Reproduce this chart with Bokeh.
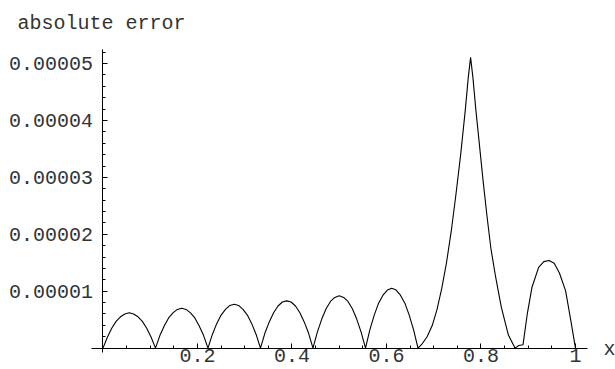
from bokeh.plotting import figure
from bokeh.models import FixedTicker, Label
from bokeh.embed import file_html
from bokeh.resources import INLINE

# ---- data: x and absolute error (in units of 1e-6) ----
ARCH_X = [
    0.0000, 0.0093, 0.0185, 0.0278, 0.0370, 0.0463, 0.0556, 0.0648, 0.0741, 0.0833, 0.0926, 0.1019, 0.1111,
    0.1204, 0.1296, 0.1389, 0.1481, 0.1574, 0.1667, 0.1759, 0.1852, 0.1944, 0.2037, 0.2130, 0.2222,
    0.2315, 0.2407, 0.2500, 0.2593, 0.2685, 0.2778, 0.2870, 0.2963, 0.3056, 0.3148, 0.3241, 0.3333,
    0.3426, 0.3519, 0.3611, 0.3704, 0.3796, 0.3889, 0.3981, 0.4074, 0.4167, 0.4259, 0.4352, 0.4444,
    0.4537, 0.4630, 0.4722, 0.4815, 0.4907, 0.5000, 0.5093, 0.5185, 0.5278, 0.5370, 0.5463, 0.5556,
    0.5648, 0.5741, 0.5833, 0.5926, 0.6019, 0.6111, 0.6204, 0.6296, 0.6389, 0.6481, 0.6574, 0.6667,
]
ARCH_ERR = [
    0.0, 1.9, 3.5, 4.7, 5.5, 6.0, 6.2, 6.0, 5.5, 4.7, 3.5, 1.9, 0.0,
    2.2, 3.9, 5.3, 6.2, 6.8, 7.0, 6.8, 6.2, 5.3, 3.9, 2.2, 0.0,
    2.4, 4.3, 5.8, 6.8, 7.5, 7.7, 7.5, 6.8, 5.8, 4.3, 2.4, 0.0,
    2.6, 4.6, 6.2, 7.4, 8.1, 8.3, 8.1, 7.4, 6.2, 4.6, 2.6, 0.0,
    2.8, 5.1, 6.9, 8.2, 8.9, 9.2, 8.9, 8.2, 6.9, 5.1, 2.8, 0.0,
    3.2, 5.8, 7.9, 9.3, 10.2, 10.5, 10.2, 9.3, 7.9, 5.8, 3.2, 0.0,
]
PEAK_X = [0.676, 0.686, 0.697, 0.707, 0.717, 0.727, 0.737, 0.747, 0.757, 0.767, 0.773, 0.778,
          0.783, 0.789, 0.797, 0.805, 0.813, 0.821, 0.831, 0.843, 0.858, 0.872]
PEAK_ERR = [0.8, 2.0, 4.0, 6.8, 10.5, 15.0, 20.5, 27.0, 34.0, 42.0, 47.5, 51.1,
            47.5, 42.0, 35.5, 29.0, 23.0, 17.5, 12.5, 7.2, 2.3, 0.0]
TAIL_X = [0.880, 0.889, 0.898, 0.908, 0.922, 0.933, 0.944, 0.955, 0.966, 0.979, 0.989, 1.000]
TAIL_ERR = [0.45, 0.6, 6.0, 10.7, 14.2, 15.2, 15.4, 14.9, 13.2, 10.1, 5.4, 0.0]

X_TICKS = [0.2, 0.4, 0.6, 0.8, 1.0]
X_TICK_LABELS = ["0.2", "0.4", "0.6", "0.8", "1"]
X_MINOR = [0.05, 0.1, 0.15, 0.25, 0.3, 0.35, 0.45, 0.5, 0.55, 0.65, 0.7, 0.75,
           0.85, 0.9, 0.95]
Y_TICKS = [1e-5, 2e-5, 3e-5, 4e-5, 5e-5]
Y_TICK_LABELS = ["0.00001", "0.00002", "0.00003", "0.00004", "0.00005"]
Y_MINOR = [2e-6, 4e-6, 6e-6, 8e-6, 1.2e-5, 1.4e-5, 1.6e-5, 1.8e-5,
           2.2e-5, 2.4e-5, 2.6e-5, 2.8e-5, 3.2e-5, 3.4e-5, 3.6e-5, 3.8e-5,
           4.2e-5, 4.4e-5, 4.6e-5, 4.8e-5, 5.2e-5]
Y_AXIS_LABEL = "absolute error"
X_AXIS_LABEL = "x"

FONT = "Liberation Mono"
TEXT_COLOR = "#333333"

xs = ARCH_X + PEAK_X + TAIL_X
err = [v * 1e-6 for v in ARCH_ERR + PEAK_ERR + TAIL_ERR]

p = figure(width=615, height=369, x_range=(-0.2169, 1.0847), y_range=(-3.761e-6, 6.109e-5),
           output_backend="svg", toolbar_location=None,
           min_border_left=0, min_border_right=0, min_border_top=0,
           min_border_bottom=0)
p.grid.visible = False
p.outline_line_color = None
p.background_fill_color = "white"
p.border_fill_color = "white"

p.line(xs, err, line_color="black", line_width=1.1)

for ax in (p.xaxis[0], p.yaxis[0]):
    ax.fixed_location = 0
    ax.axis_line_color = "black"
    ax.axis_line_width = 1
    ax.major_tick_line_color = "black"
    ax.minor_tick_line_color = "black"
    ax.major_tick_in = 5
    ax.major_tick_out = 0
    ax.minor_tick_in = 3
    ax.minor_tick_out = 0
    ax.major_label_text_font = FONT
    ax.major_label_text_font_size = "20px"
    ax.major_label_text_color = TEXT_COLOR

p.xaxis[0].ticker = FixedTicker(ticks=X_TICKS, minor_ticks=X_MINOR)
p.xaxis[0].major_label_overrides = dict(zip(X_TICKS, X_TICK_LABELS))
p.xaxis[0].major_label_standoff = 1
p.xaxis[0].bounds = (-0.025, 1.025)
p.yaxis[0].ticker = FixedTicker(ticks=Y_TICKS, minor_ticks=Y_MINOR)
p.yaxis[0].major_label_overrides = dict(zip(Y_TICKS, Y_TICK_LABELS))
p.yaxis[0].major_label_standoff = 10
p.yaxis[0].bounds = (-0.7e-6, 5.255e-5)

p.add_layout(Label(x=-0.181, y=5.705e-5, text=Y_AXIS_LABEL, text_font=FONT,
                   text_font_size="20px", text_color=TEXT_COLOR,
                   text_baseline="middle", text_align="left"))
p.add_layout(Label(x=1.072, y=-0.2e-6, text=X_AXIS_LABEL, text_font=FONT,
                   text_font_size="20px", text_color=TEXT_COLOR,
                   text_baseline="middle", text_align="center"))

open("out.html", "w").write(file_html(p, INLINE))
